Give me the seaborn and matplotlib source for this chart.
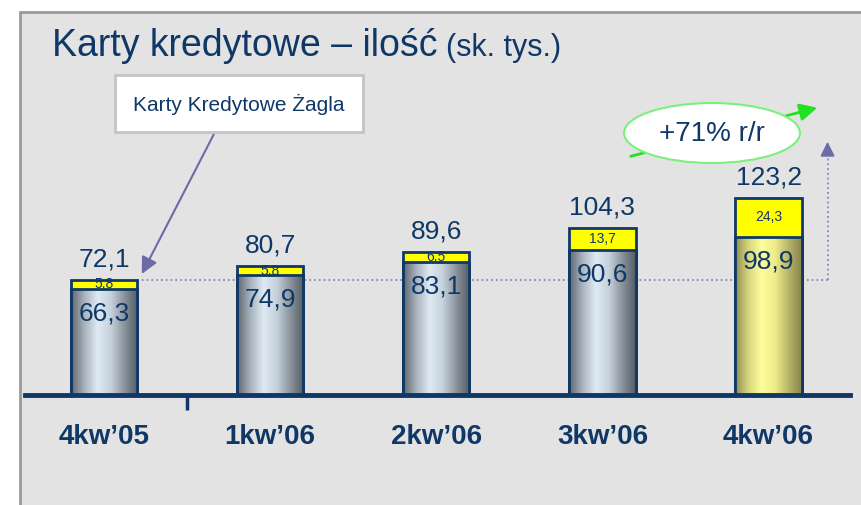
import matplotlib
matplotlib.use("Agg")
import matplotlib.pyplot as plt
import numpy as np
import seaborn as sns
from matplotlib.colors import LinearSegmentedColormap
from matplotlib.patches import Rectangle, Ellipse

# data (thousand pcs)
quarters = ["4kw\u201905", "1kw\u201906", "2kw\u201906", "3kw\u201906", "4kw\u201906"]
base_cards = [66.3, 74.9, 83.1, 90.6, 98.9]
zagiel_cards = [5.8, 5.8, 6.5, 13.7, 24.3]
total_labels = ["72,1", "80,7", "89,6", "104,3", "123,2"]
base_labels = ["66,3", "74,9", "83,1", "90,6", "98,9"]
zagiel_labels = ["5,8", "5,8", "6,5", "13,7", "24,3"]
totals = [b + z for b, z in zip(base_cards, zagiel_cards)]

navy = "#0f3866"
sns.set_theme(style="white")
plt.rcParams['font.family'] = ['Liberation Sans', 'DejaVu Sans']

fig = plt.figure(figsize=(8.61, 5.05), dpi=100)
fig.patch.set_facecolor("white")

# grey panel behind everything
fig.patches.append(Rectangle((20 / 861, -0.05), 1.1, (505 - 12) / 505 + 0.05,
                             transform=fig.transFigure, facecolor="#e3e3e3",
                             edgecolor="#9a9a9a", linewidth=2, zorder=-5))

ax = fig.add_axes([25 / 861, 110 / 505, 825 / 861, 335 / 505])
ax.set_facecolor("none")
ax.set_zorder(1)

# stacked bars: totals (yellow top part) then base part over it
sns.barplot(x=quarters, y=totals, color="#ffff00", saturation=1, width=0.4,
            edgecolor=navy, linewidth=2, ax=ax)
n_top = len(ax.patches)
sns.barplot(x=quarters, y=base_cards, color="#c8d4de", saturation=1, width=0.4,
            edgecolor=navy, linewidth=2, ax=ax)

# metallic cylinder gradient on base bars
grey_cm = LinearSegmentedColormap.from_list(
    "g", ["#5e656e", "#a9b3bd", "#dfeaf3", "#c4d0da", "#8a939c", "#545b63"])
yel_cm = LinearSegmentedColormap.from_list(
    "y", ["#8e8b52", "#d8d67c", "#fdfd9c", "#eeec8a", "#b7b468", "#86834c"])
grad = np.linspace(0, 1, 256).reshape(1, -1)
for i, p in enumerate(ax.patches[n_top:]):
    x0, w, h = p.get_x(), p.get_width(), p.get_height()
    cm = yel_cm if i == len(quarters) - 1 else grey_cm
    z = p.get_zorder()
    im = ax.imshow(grad, cmap=cm, extent=[x0, x0 + w, 0, h], aspect="auto",
                   zorder=z + 0.05)
    im.set_clip_path(p)
    p.set_facecolor("none")
    p.set_zorder(z + 0.1)

ax.set_xlim(-0.475, 4.49)
ax.set_ylim(0, 335 / 1.6)

# value labels
for i in range(len(quarters)):
    ax.annotate(total_labels[i], (i, totals[i]), xytext=(0, 6),
                textcoords="offset points", ha="center", va="bottom",
                fontsize=19, color=navy)
    ax.annotate(base_labels[i], (i, base_cards[i]), xytext=(0, -9),
                textcoords="offset points", ha="center", va="top",
                fontsize=19, color=navy, zorder=5)
    ax.text(i, base_cards[i] + zagiel_cards[i] / 2, zagiel_labels[i],
            ha="center", va="center", fontsize=10, color=navy, zorder=5)

# axis styling
for s in ["top", "left", "right"]:
    ax.spines[s].set_visible(False)
ax.spines["bottom"].set_color(navy)
ax.spines["bottom"].set_linewidth(3.5)
ax.set_yticks([])
ax.tick_params(axis="x", length=0, pad=21)
for lbl in ax.get_xticklabels():
    lbl.set_fontsize(20)
    lbl.set_fontweight("bold")
    lbl.set_color(navy)
ax.vlines(0.5, -9.5, 0, color=navy, linewidth=2.5, clip_on=False)

# dotted reference line from first bar + arrow up
ax.plot([0.2, 4.355], [totals[0], totals[0]], linestyle=":", color="#8a86b8",
        linewidth=1.3, zorder=0.5)
ax.plot([4.355, 4.355], [totals[0], 152], linestyle=":", color="#8a86b8",
        linewidth=1.3, zorder=0.5)
ax.annotate("", xy=(4.355, 160), xytext=(4.355, 150),
            arrowprops=dict(arrowstyle="-|>", color="#6e6aa8", lw=1.2,
                            mutation_scale=22), annotation_clip=False)

# title
fig.text(52 / 861, 1 - 46 / 505, "Karty kredytowe \u2013 ilo\u015b\u0107",
         fontsize=27, color=navy, va="center", ha="left")
fig.text(446 / 861, 1 - 48 / 505, "(sk. tys.)", fontsize=22, color=navy,
         va="center", ha="left")

# callout box
fig.patches.append(Rectangle((115 / 861, 1 - 132 / 505), 248 / 861, 57 / 505,
                             transform=fig.transFigure, facecolor="white",
                             edgecolor="#c4c4c4", linewidth=2, zorder=2))
fig.text(239 / 861, 1 - 104 / 505, "Karty Kredytowe \u017bagla", fontsize=15,
         color=navy, ha="center", va="center", zorder=3)
ax.annotate("", xy=(0.22, totals[0] + 2), xycoords="data",
            xytext=(215 / 861, 1 - 132 / 505), textcoords="figure fraction",
            arrowprops=dict(arrowstyle="-|>", color="#6e6aa8", lw=1.5,
                            mutation_scale=25), annotation_clip=False)

# green growth arrow and ellipse
ax.annotate("", xy=(820 / 861, 1 - 107 / 505), xycoords="figure fraction",
            xytext=(628 / 861, 1 - 157 / 505), textcoords="figure fraction",
            arrowprops=dict(arrowstyle="-|>", color="#22e022", lw=2,
                            mutation_scale=26), annotation_clip=False)
fig.patches.append(Ellipse((712 / 861, 1 - 133 / 505), 176 / 861, 60 / 505,
                           transform=fig.transFigure, facecolor="white",
                           edgecolor="#7cf07c", linewidth=1.5, zorder=4))
fig.text(712 / 861, 1 - 134 / 505, "+71% r/r", fontsize=20, color=navy,
         ha="center", va="center", zorder=5)

fig.savefig("out.png", dpi=100)
